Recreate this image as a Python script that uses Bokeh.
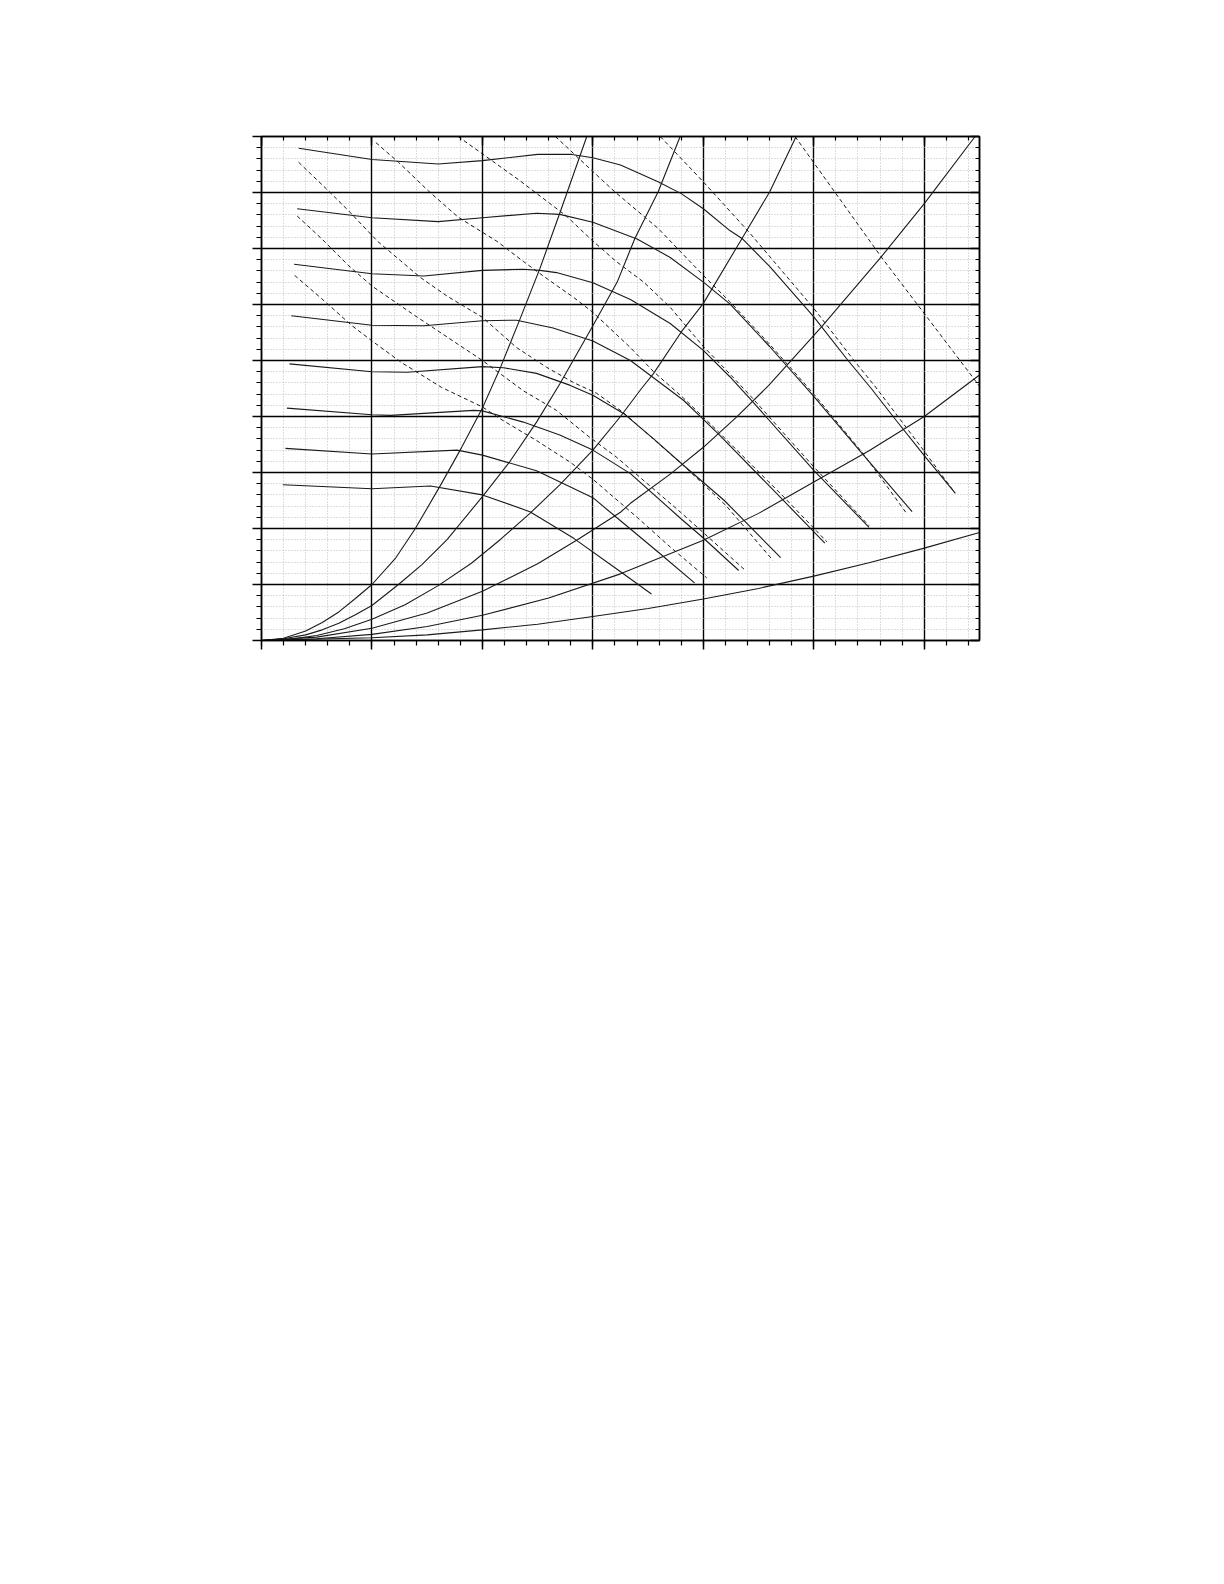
from bokeh.plotting import figure
from bokeh.models import FixedTicker, LinearAxis, Range1d
from bokeh.embed import file_html
from bokeh.resources import INLINE

# ---------------- data ----------------
# axis ticks (no tick labels are printed on the chart)
x_major_ticks = [0, 1, 2, 3, 4, 5, 6]
x_minor_ticks = [round(0.2 * i, 1) for i in range(33)]
y_major_ticks = [0, 1, 2, 3, 4, 5, 6, 7, 8, 9]
y_minor_ticks = [round(0.2 * i, 1) for i in range(46)]

# system curves (solid, rising from the origin)
sys1_x = [0, 0.2, 0.4, 0.55, 0.7, 0.85, 1.0, 1.21, 1.39, 1.62, 1.81, 2.0, 2.16, 2.33, 2.52, 2.70, 2.945]
sys1_y = [0, 0.04, 0.17, 0.32, 0.51, 0.75, 1.0, 1.46, 1.99, 2.77, 3.44, 4.15, 4.86, 5.69, 6.64, 7.63, 9.0]
sys2_x = [0, 0.2, 0.4, 0.55, 0.7, 0.85, 1.0, 1.24, 1.45, 1.68, 2.0, 2.25, 2.49, 2.70, 3.0, 3.22, 3.38, 3.59, 3.79]
sys2_y = [0, 0.03, 0.10, 0.19, 0.31, 0.46, 0.625, 1.0, 1.35, 1.80, 2.57, 3.2, 3.90, 4.58, 5.62, 6.40, 7.18, 8.01, 9.0]
sys3_x = [0, 0.25, 0.5, 0.75, 1.0, 1.3, 1.6, 1.9, 2.16, 2.43, 2.7, 3.0, 3.25, 3.44, 3.55, 3.8, 4.0, 4.35, 4.6, 4.84]
sys3_y = [0, 0.02, 0.09, 0.21, 0.38, 0.64, 0.98, 1.38, 1.80, 2.27, 2.78, 3.40, 4.0, 4.5, 4.77, 5.51, 6.02, 7.18, 8.01, 9.0]
sys4_x = [0, 0.5, 1.0, 1.5, 2.0, 2.5, 2.86, 3.25, 3.34, 3.7, 4.0, 4.3, 4.59, 5.07, 5.61, 6.0, 6.46]
sys4_y = [0, 0.06, 0.22, 0.49, 0.88, 1.37, 1.80, 2.29, 2.45, 2.97, 3.45, 3.99, 4.55, 5.6, 6.85, 7.8, 9.0]
sys5_x = [0, 0.5, 1.0, 1.5, 2.0, 2.6, 3.25, 4.0, 4.5, 5.0, 5.5, 6.0, 6.5]
sys5_y = [0, 0.03, 0.11, 0.25, 0.45, 0.76, 1.19, 1.79, 2.27, 2.83, 3.39, 4.0, 4.74]
sys6_x = [0, 1.0, 1.5, 2.0, 2.5, 3.0, 3.5, 4.0, 4.5, 5.0, 5.5, 6.0, 6.5]
sys6_y = [0, 0.05, 0.10, 0.19, 0.29, 0.43, 0.57, 0.74, 0.93, 1.15, 1.39, 1.65, 1.93]

# pump curves (solid, flat then falling)
pump1_x = [0.337, 1.0, 1.6, 2.0, 2.5, 2.81, 3.0, 3.25, 3.59, 3.8, 4.0, 4.24, 4.35, 4.6, 5.0, 5.31, 5.52, 5.75, 6.0, 6.28]
pump1_y = [8.79, 8.59, 8.51, 8.57, 8.68, 8.68, 8.62, 8.49, 8.19, 7.98, 7.71, 7.32, 7.18, 6.68, 5.78, 5.0, 4.5, 3.92, 3.3, 2.63]
pump2_x = [0.323, 1.0, 1.6, 2.0, 2.49, 2.70, 3.0, 3.4, 3.7, 4.0, 4.24, 4.6, 5.0, 5.45, 5.89]
pump2_y = [7.71, 7.55, 7.48, 7.55, 7.63, 7.61, 7.47, 7.17, 6.84, 6.40, 6.01, 5.25, 4.36, 3.31, 2.30]
pump3_x = [0.295, 1.0, 1.47, 2.0, 2.37, 2.52, 2.67, 3.0, 3.34, 3.7, 4.0, 4.24, 4.43, 5.0, 5.50]
pump3_y = [6.72, 6.55, 6.51, 6.61, 6.63, 6.61, 6.57, 6.39, 6.09, 5.66, 5.18, 4.71, 4.30, 3.04, 2.02]
pump4_x = [0.27, 1.0, 1.47, 2.0, 2.31, 2.64, 3.0, 3.34, 3.82, 4.0, 4.14, 4.72, 5.10]
pump4_y = [5.80, 5.63, 5.62, 5.71, 5.72, 5.58, 5.35, 5.0, 4.29, 3.95, 3.68, 2.51, 1.74]
pump5_x = [0.253, 1.0, 1.32, 2.0, 2.19, 2.49, 2.79, 3.0, 3.28, 3.55, 3.82, 4.19, 4.70]
pump5_y = [4.94, 4.80, 4.79, 4.89, 4.87, 4.77, 4.56, 4.38, 4.05, 3.6, 3.13, 2.5, 1.48]
pump6_x = [0.23, 1.0, 1.17, 1.92, 2.0, 2.37, 2.7, 3.0, 3.34, 3.8, 4.0, 4.32]
pump6_y = [4.15, 4.03, 4.02, 4.11, 4.10, 3.90, 3.67, 3.40, 2.98, 2.17, 1.83, 1.25]
pump7_x = [0.217, 1.0, 1.77, 2.0, 2.49, 3.0, 3.28, 3.59, 3.92]
pump7_y = [3.43, 3.33, 3.40, 3.31, 3.03, 2.55, 2.09, 1.58, 1.03]
pump8_x = [0.193, 1.0, 1.53, 2.0, 2.43, 2.83, 3.2, 3.53]
pump8_y = [2.78, 2.71, 2.76, 2.60, 2.30, 1.82, 1.30, 0.83]

# dashed curves
dash1_x = [0.30, 0.547, 0.82, 1.0, 1.27, 1.63, 2.0, 2.16, 2.49, 2.79, 3.0, 3.4, 3.7, 4.03]
dash1_y = [6.52, 6.10, 5.62, 5.35, 4.96, 4.52, 4.17, 3.96, 3.57, 3.19, 2.88, 2.20, 1.67, 1.12]
dash2_x = [0.323, 0.547, 0.79, 1.0, 1.39, 2.0, 2.37, 2.67, 2.97, 3.21, 3.8, 4.37]
dash2_y = [7.58, 7.17, 6.69, 6.33, 5.80, 5.0, 4.46, 4.11, 3.63, 3.28, 2.28, 1.27]
dash3_x = [0.336, 0.59, 0.79, 1.05, 1.26, 1.44, 1.68, 2.0, 2.31, 2.58, 2.83, 3.03, 3.27, 3.8, 4.21, 4.63]
dash3_y = [8.54, 8.06, 7.67, 7.13, 6.78, 6.48, 6.15, 5.77, 5.23, 4.88, 4.6, 4.42, 4.08, 3.16, 2.4, 1.43]
dash4_x = [1.036, 1.24, 1.51, 1.78, 2.13, 2.37, 2.55, 2.83, 3.0, 3.34, 3.55, 3.82, 4.14, 4.72, 5.12]
dash4_y = [8.89, 8.54, 8.03, 7.56, 7.13, 6.77, 6.51, 6.12, 5.86, 5.23, 4.8, 4.33, 3.72, 2.58, 1.76]
dash5_x = [1.78, 2.34, 2.76, 2.99, 3.21, 3.46, 3.70, 4.0, 4.24, 4.43, 5.0, 5.5]
dash5_y = [9.0, 8.21, 7.58, 7.15, 6.77, 6.40, 5.95, 5.25, 4.76, 4.36, 3.10, 2.05]
dash6_x = [2.66, 3.09, 3.2, 3.59, 4.0, 4.24, 4.6, 5.0, 5.45, 5.84]
dash6_y = [9.0, 8.21, 8.01, 7.36, 6.52, 6.05, 5.29, 4.40, 3.33, 2.27]
dash7_x = [3.61, 4.0, 4.41, 5.0, 5.36, 5.55, 6.0, 6.28]
dash7_y = [9.0, 8.19, 7.30, 5.93, 5.01, 4.55, 3.38, 2.63]
dash8_x = [4.83, 5.61, 6.47, 6.5]
dash8_y = [9.0, 6.85, 4.62, 4.54]

system_curves = [(sys1_x, sys1_y), (sys2_x, sys2_y), (sys3_x, sys3_y),
                 (sys4_x, sys4_y), (sys5_x, sys5_y), (sys6_x, sys6_y)]
pump_curves = [(pump1_x, pump1_y), (pump2_x, pump2_y), (pump3_x, pump3_y), (pump4_x, pump4_y),
               (pump5_x, pump5_y), (pump6_x, pump6_y), (pump7_x, pump7_y), (pump8_x, pump8_y)]
dashed_curves = [(dash1_x, dash1_y), (dash2_x, dash2_y), (dash3_x, dash3_y), (dash4_x, dash4_y),
                 (dash5_x, dash5_y), (dash6_x, dash6_y), (dash7_x, dash7_y), (dash8_x, dash8_y)]

# ---------------- figure ----------------
p = figure(width=999, height=660,
           x_range=Range1d(0, 6.5), y_range=Range1d(0, 9),
           output_backend="svg", toolbar_location=None,
           min_border_left=261, min_border_right=20,
           min_border_top=136, min_border_bottom=20)
p.background_fill_color = "white"
p.border_fill_color = "white"
p.outline_line_color = "black"
p.outline_line_width = 1.5

xticker = FixedTicker(ticks=x_major_ticks, minor_ticks=x_minor_ticks)
yticker = FixedTicker(ticks=y_major_ticks, minor_ticks=y_minor_ticks)

p.add_layout(LinearAxis(), "above")
p.add_layout(LinearAxis(), "right")

for ax in p.xaxis:
    ax.ticker = xticker
for ax in p.yaxis:
    ax.ticker = yticker

for ax in p.xaxis + p.yaxis:
    ax.major_label_text_font_size = "0px"
    ax.major_label_text_color = None
    ax.major_label_standoff = 0
    ax.axis_line_color = "black"
    ax.axis_line_width = 1.5
    ax.major_tick_line_color = "black"
    ax.major_tick_line_width = 1.5
    ax.minor_tick_line_color = "black"
    ax.minor_tick_line_width = 1.2

# outside ticks on bottom / left, inside ticks on top / right
for ax in [p.below[0], p.left[0]]:
    ax.major_tick_out = 9
    ax.major_tick_in = 0
    ax.minor_tick_out = 5
    ax.minor_tick_in = 0
for ax in [p.above[0], p.right[0]]:
    ax.major_tick_out = 0
    ax.major_tick_in = 9
    ax.minor_tick_out = 0
    ax.minor_tick_in = 4

p.xgrid.ticker = xticker
p.ygrid.ticker = yticker
for g in [p.xgrid[0], p.ygrid[0]]:
    g.grid_line_color = "black"
    g.grid_line_width = 1.4
    g.minor_grid_line_color = "#bdbdbd"
    g.minor_grid_line_width = 1
    g.minor_grid_line_dash = "1 2"

for xs, ys in system_curves:
    p.line(xs, ys, line_color="#1a1a1a", line_width=1.1)
for xs, ys in pump_curves:
    p.line(xs, ys, line_color="#1a1a1a", line_width=1.1)
for xs, ys in dashed_curves:
    p.line(xs, ys, line_color="#1a1a1a", line_width=1.0, line_dash="4 3")

open("out.html", "w").write(file_html(p, INLINE))
